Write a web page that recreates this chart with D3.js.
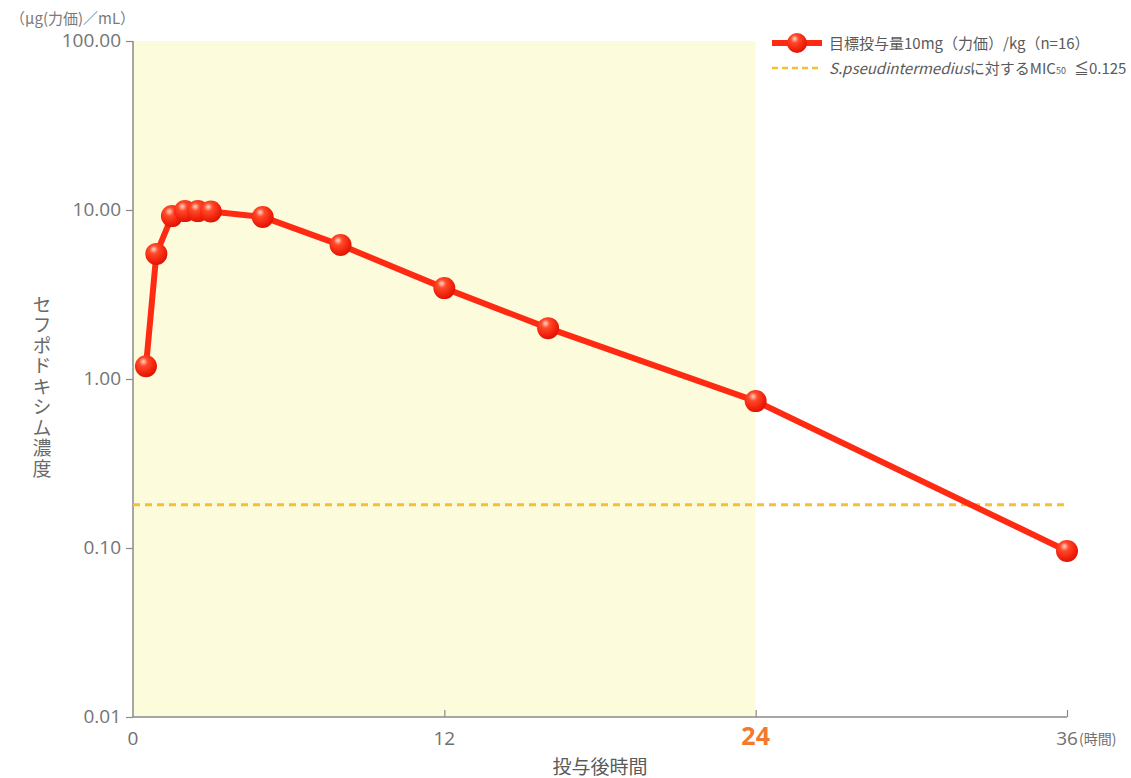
<!DOCTYPE html>
<html><head><meta charset="utf-8">
<script src="https://cdn.jsdelivr.net/npm/d3@7"></script>
<style>
body{margin:0;background:#fff;}
svg{font-family:"Noto Sans CJK JP","Noto Sans",sans-serif;}
</style></head>
<body><svg id="c" width="1131" height="778"></svg>
<script>
const times = [0.5, 0.9, 1.5, 2, 2.5, 3, 5, 8, 12, 16, 24, 36];
const conc = [1.19, 5.5, 9.2, 9.85, 9.85, 9.8, 9.1, 6.2, 3.45, 2.0, 0.74, 0.096];
const micValue = 0.18;
const yTicks = [0.01, 0.1, 1, 10, 100];
const yTickLabels = ["0.01", "0.10", "1.00", "10.00", "100.00"];
const xTicks = [0, 12, 24, 36];
const shadeEnd = 24;
const seriesLabel = "目標投与量10mg（力価）/kg（n=16）";

const NUMFONT = "'Open Sans','Noto Sans',sans-serif";
const svg = d3.select("#c");
const L = 133, R = 1067, T = 41, B = 717;
const x = d3.scaleLinear().domain([0, 36]).range([L, R]);
const y = d3.scaleLog().domain([0.01, 100]).range([B, T]);

const defs = svg.append("defs");
const g = defs.append("radialGradient").attr("id","ball").attr("cx","40%").attr("cy","35%").attr("r","65%").attr("fx","38%").attr("fy","28%");
g.append("stop").attr("offset","0%").attr("stop-color","#ffd6c8");
g.append("stop").attr("offset","30%").attr("stop-color","#ff4a2a");
g.append("stop").attr("offset","80%").attr("stop-color","#f01e0a");
g.append("stop").attr("offset","100%").attr("stop-color","#d81808");

// shaded region
svg.append("rect").attr("x", x(0)).attr("y", T).attr("width", x(shadeEnd) - x(0)).attr("height", B - T).attr("fill", "#fcfcdd");

// axes
const axCol = "#8a8a8a";
const yAxis = svg.append("g").attr("transform", `translate(${L},0)`)
  .call(d3.axisLeft(y).tickValues(yTicks).tickFormat((d,i)=>yTickLabels[i]).tickSize(7).tickPadding(5));
yAxis.select(".domain").attr("stroke", axCol).attr("stroke-width",1.5).attr("d", `M0,${T}V${B}`);
yAxis.selectAll(".tick line").attr("stroke", axCol).attr("stroke-width",1.2);
yAxis.selectAll(".tick text").attr("fill","#747474").attr("dy","0.3em")
  .style("font-family", NUMFONT).style("font-size","19px");

const xAxis = svg.append("g").attr("transform", `translate(0,${B})`)
  .call(d3.axisBottom(x).tickValues(xTicks).tickSize(-7).tickFormat(""));
xAxis.select(".domain").attr("stroke", axCol).attr("stroke-width",1.5).attr("d", `M${L},0H${R}`);
xAxis.selectAll(".tick line").attr("stroke", axCol).attr("stroke-width",1.2).filter(d=>d===0).remove();

xTicks.forEach(t=>{
  const tx = svg.append("text").attr("x", x(t)).attr("y", 745).attr("text-anchor","middle").style("font-family", NUMFONT).text(t);
  if (t === 24) tx.attr("fill","#f37a2b").style("font-size","25px").style("font-weight","bold");
  else tx.attr("fill","#707070").style("font-size","19px");
});
svg.append("text").attr("x", x(36)+12).attr("y", 744).attr("fill","#6f6f6f").style("font-size","14px").text("(時間)");

// unit label
svg.append("text").attr("x", 10).attr("y", 24).attr("fill","#7a7a7a").style("font-size","15px").text("（μg(力価)／mL）");

// y title
svg.append("text").attr("x", 42).attr("y", 295).attr("fill","#6a6a6a").style("font-size","19px")
  .style("writing-mode","vertical-rl").style("text-orientation","upright").attr("letter-spacing","1.5px")
  .text("セフポドキシム濃度");
// x title
svg.append("text").attr("x", 600).attr("y", 774).attr("text-anchor","middle").attr("fill","#5a5a5a").style("font-size","19px").text("投与後時間");

// MIC line
svg.append("line").attr("x1", L).attr("x2", R).attr("y1", y(micValue)).attr("y2", y(micValue))
  .attr("stroke","#f6c02e").attr("stroke-width",3).attr("stroke-dasharray","7,5");

// series line
const data = times.map((t,i)=>({t, v: conc[i]}));
svg.append("path").datum(data).attr("fill","none").attr("stroke","#ff2a12").attr("stroke-width",6).attr("stroke-linejoin","round")
  .attr("d", d3.line().x(d=>x(d.t)).y(d=>y(d.v)));
svg.selectAll("circle.pt").data(data).join("circle").attr("class","pt")
  .attr("cx", d=>x(d.t)).attr("cy", d=>y(d.v)).attr("r", 11).attr("fill","url(#ball)");

// legend
svg.append("line").attr("x1",772).attr("x2",822).attr("y1",43).attr("y2",43).attr("stroke","#ff2a12").attr("stroke-width",6);
svg.append("circle").attr("cx",797).attr("cy",43).attr("r",10).attr("fill","url(#ball)");
svg.append("text").attr("x",829).attr("y",49).attr("fill","#5a5a5a").style("font-size","15px").text(seriesLabel);
svg.append("line").attr("x1",772).attr("x2",822).attr("y1",68).attr("y2",68).attr("stroke","#f6c02e").attr("stroke-width",2.5).attr("stroke-dasharray","6,4");
const lt = svg.append("text").attr("x",829).attr("y",74).attr("fill","#5a5a5a").style("font-size","15px");
lt.append("tspan").style("font-style","italic").text("S.pseudintermedius");
lt.append("tspan").text("に対するMIC");
lt.append("tspan").style("font-size","9px").text("50");
lt.append("tspan").attr("dx",8).text("≦0.125");
</script></body></html>
